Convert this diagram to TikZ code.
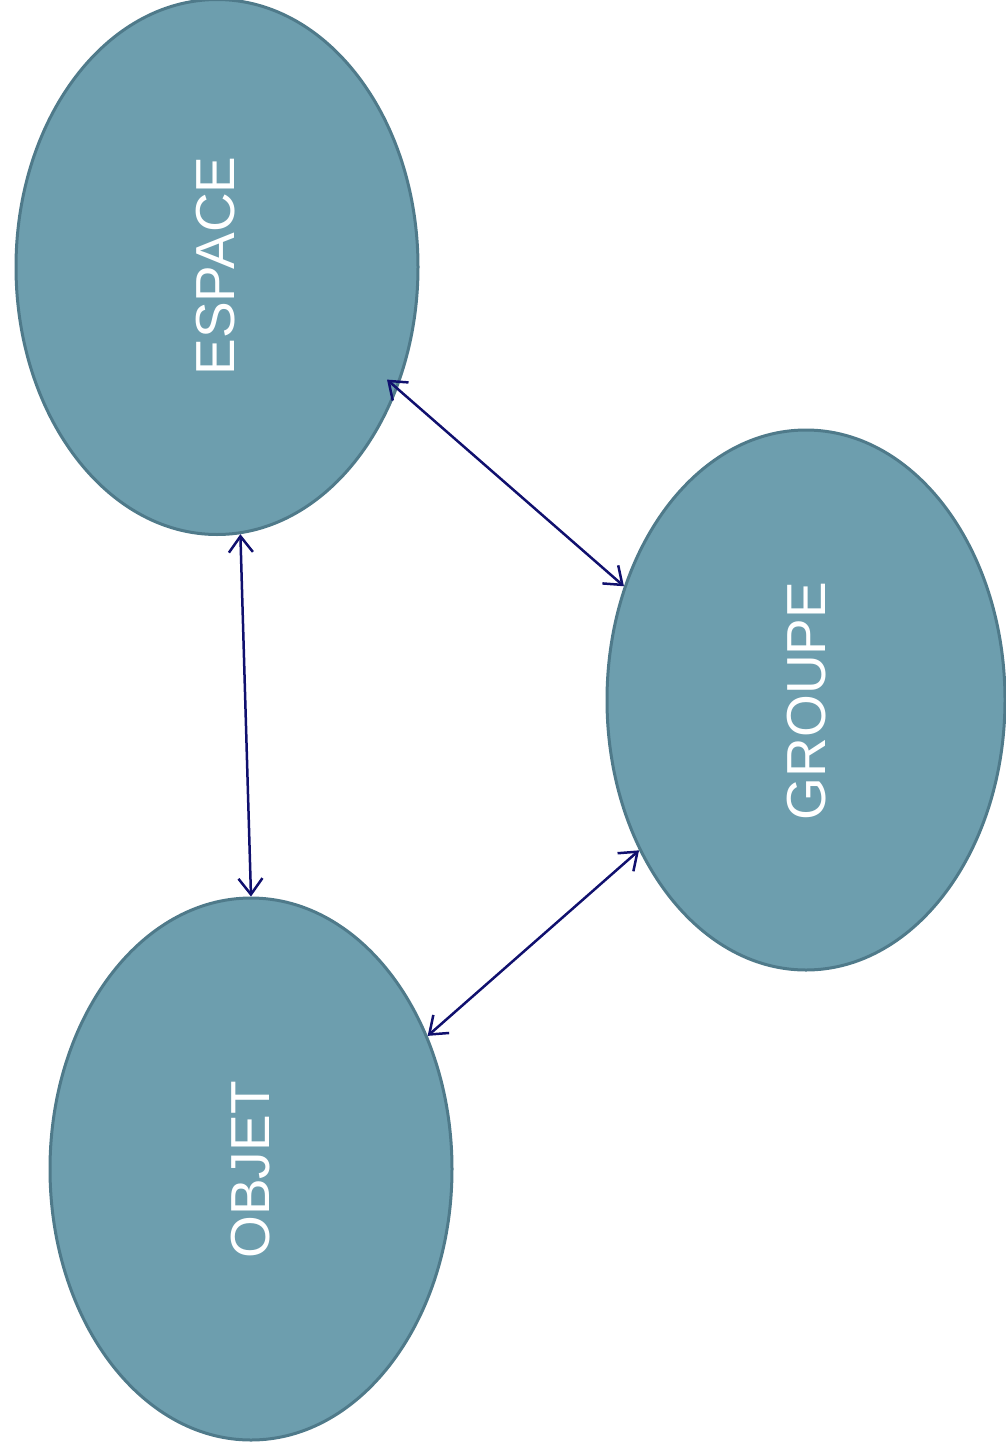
\documentclass[tikz,border=0pt]{standalone}
\usepackage{fontspec}
\setmainfont{Liberation Sans}
\usetikzlibrary{shapes.geometric,arrows.meta}
\definecolor{ellfill}{HTML}{6D9EAE}
\definecolor{elldraw}{HTML}{4F7A8A}
\definecolor{arrcol}{HTML}{10106E}
\tikzset{
  concept/.style={ellipse, draw=elldraw, fill=ellfill, line width=3pt, inner sep=0pt},
  label/.style={text=white, font=\fontsize{55}{62}\selectfont, rotate=90},
  link/.style={draw=arrcol, line width=2.5pt, {Straight Barb[length=16pt,width=24pt]}-{Straight Barb[length=16pt,width=24pt]}}
}
\begin{document}
\begin{tikzpicture}[x=1pt,y=-1pt]
\useasboundingbox (0,0) rectangle (1006,1454);
\node[concept, minimum width=402pt, minimum height=535pt] (esp) at (217,267) {};
\node[concept, minimum width=398pt, minimum height=540pt] (grp) at (806,700) {};
\node[concept, minimum width=402pt, minimum height=542pt] (obj) at (251,1169) {};
\node[label] (tesp) at (216,266) {ESPACE};
\node[label] (tgrp) at (807,701) {GROUPE};
\node[label] (tobj) at (251,1170) {OBJET};
\draw[link, shorten <=-14pt] (esp.-34) -- (grp.148);
\draw[link] (esp.-85) -- (obj.90);
\draw[link] (grp.-138) -- (obj.37);
\end{tikzpicture}
\end{document}
